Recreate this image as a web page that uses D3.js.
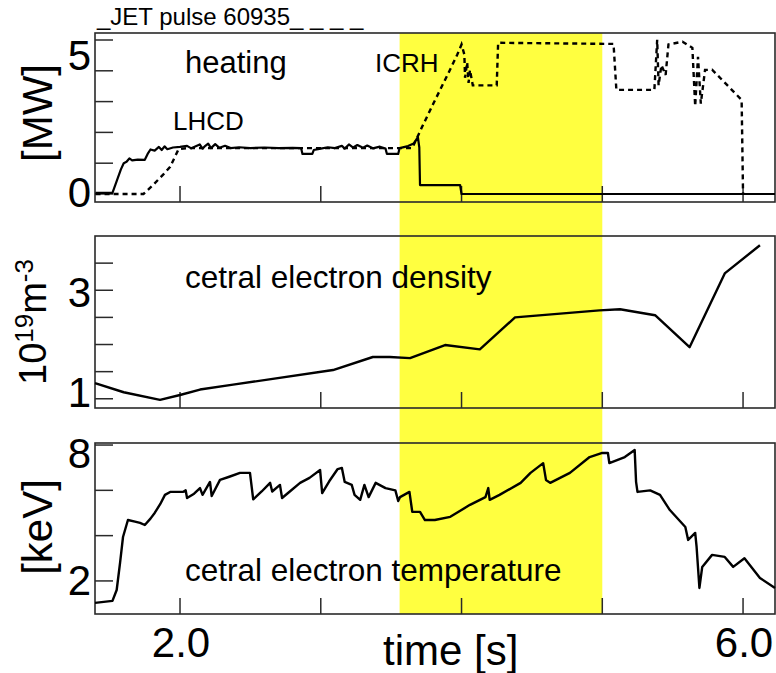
<!DOCTYPE html>
<html><head><meta charset="utf-8">
<script src="https://cdn.jsdelivr.net/npm/d3@7"></script>
<style>
body{margin:0;background:#fff}
svg{display:block}
text{font-family:"Liberation Sans",Arial,Helvetica,sans-serif;fill:#000}
</style>
</head><body>
<svg id="chart" width="776" height="673"></svg>
<script>
// ---------------- data ----------------
const timeTicks = [2, 3, 4, 5, 6];
const timeTickLabels = [[2, "2.0"], [6, "6.0"]];
const highlightWindow = [3.56, 5.0];

// heating power [MW] : [time s, value]
const lhcdPower = [[1.40,0.04],[1.52,0.04],[1.55,0.46],[1.58,0.88],[1.60,1.10],[1.62,1.15],[1.64,1.27],[1.66,1.20],[1.70,1.23],[1.75,1.22],[1.77,1.43],[1.79,1.59],[1.82,1.55],[1.85,1.68],[1.87,1.57],[1.89,1.70],[1.91,1.60],[1.95,1.66],[2.00,1.68],[2.05,1.72],[2.08,1.63],[2.10,1.68],[2.14,1.77],[2.16,1.62],[2.18,1.72],[2.20,1.80],[2.22,1.64],[2.25,1.78],[2.28,1.65],[2.32,1.72],[2.36,1.64],[2.42,1.67],[2.50,1.64],[2.60,1.66],[2.70,1.64],[2.80,1.65],[2.86,1.64],[2.87,1.43],[2.94,1.43],[2.95,1.57],[3.00,1.62],[3.05,1.67],[3.10,1.64],[3.15,1.72],[3.17,1.62],[3.20,1.77],[3.23,1.66],[3.26,1.75],[3.30,1.65],[3.33,1.73],[3.37,1.63],[3.42,1.69],[3.46,1.62],[3.47,1.43],[3.55,1.43],[3.56,1.64],[3.62,1.71],[3.66,1.80],[3.69,2.03],[3.70,1.66],[3.705,0.32],[3.99,0.32],[4.00,0.0],[6.227,0.0]];
const icrhPower = [[1.40,0],[1.74,0],[1.80,0.28],[1.88,0.69],[1.93,0.97],[1.99,1.60],[2.05,1.64],[2.50,1.64],[3.00,1.64],[3.50,1.64],[3.65,1.64],[3.72,2.40],[3.80,3.23],[3.90,4.25],[3.97,4.98],[4.00,5.34],[4.02,4.98],[4.025,4.15],[4.04,4.70],[4.05,3.97],[4.06,4.43],[4.08,3.88],[4.25,3.88],[4.26,5.40],[5.08,5.36],[5.10,3.72],[5.37,3.72],[5.39,5.51],[5.40,3.88],[5.42,4.60],[5.45,4.25],[5.47,5.34],[5.57,5.44],[5.64,5.22],[5.66,3.14],[5.68,4.90],[5.70,3.23],[5.73,4.43],[5.78,4.44],[5.99,3.36],[6.00,0]];
const heatTicks = [0, 1.1, 2.2, 3.3, 4.4, 5.5];
const heatTickLabels = [[0, "0"], [5, "5"]];

// central electron density [1e19 m^-3]
const density = [[1.396,1.29],[1.60,1.12],[1.858,0.98],[2.00,1.07],[2.142,1.17],[2.377,1.26],[3.087,1.53],[3.37,1.77],[3.49,1.77],[3.634,1.75],[3.883,1.99],[4.13,1.91],[4.38,2.50],[4.98,2.63],[5.126,2.65],[5.375,2.54],[5.62,1.95],[5.87,3.31],[6.12,3.83]];
const densTicks = [1, 1.5, 2, 2.5, 3, 3.5];
const densTickLabels = [[1, "1"], [3, "3"]];

// central electron temperature [keV]
const temperature = [[1.396,1.03],[1.52,1.12],[1.55,1.6],[1.574,2.8],[1.595,3.94],[1.63,4.69],[1.68,4.62],[1.716,4.56],[1.75,4.47],[1.79,4.75],[1.82,5.0],[1.86,5.4],[1.893,5.8],[1.93,5.93],[2.02,5.93],[2.04,6.0],[2.05,5.66],[2.1,5.85],[2.142,6.1],[2.16,5.8],[2.213,6.37],[2.225,5.75],[2.284,6.46],[2.35,6.6],[2.426,6.77],[2.497,6.77],[2.52,5.6],[2.58,5.95],[2.64,6.33],[2.655,5.95],[2.71,6.24],[2.725,5.66],[2.78,5.95],[2.853,6.33],[2.92,6.55],[2.995,6.9],[3.01,5.88],[3.06,6.4],[3.12,6.94],[3.15,6.99],[3.17,6.37],[3.22,6.24],[3.24,5.8],[3.28,5.58],[3.31,6.24],[3.34,5.7],[3.39,6.33],[3.46,6.1],[3.53,6.0],[3.55,5.53],[3.563,5.7],[3.63,5.93],[3.65,5.05],[3.705,5.05],[3.74,4.69],[3.81,4.69],[3.92,4.83],[4.06,5.36],[4.17,5.7],[4.19,6.1],[4.2,5.58],[4.27,5.8],[4.42,6.33],[4.49,6.77],[4.58,7.2],[4.6,6.46],[4.63,6.33],[4.77,6.77],[4.91,7.47],[5.0,7.65],[5.04,7.65],[5.05,7.2],[5.16,7.47],[5.21,7.69],[5.23,7.78],[5.24,6.37],[5.25,5.93],[5.34,6.0],[5.41,5.8],[5.48,5.13],[5.59,4.38],[5.61,3.81],[5.66,4.12],[5.67,3.5],[5.69,1.69],[5.71,2.62],[5.78,3.15],[5.87,3.06],[5.93,2.62],[6.01,3.0],[6.12,2.13],[6.227,1.69]];
const tempTicks = [2, 4, 6, 8];
const tempTickLabels = [[2, "2"], [8, "8"]];

// ---------------- layout ----------------
const svg = d3.select("#chart");
const L = 95, R = 775;
const x = d3.scaleLinear().domain([1.396, 6.227]).range([L, R]);

const panels = [
  {top: 33, bottom: 202, domain: [-0.286, 5.75], ticks: heatTicks, labels: heatTickLabels, labelDy: [13, 16]},
  {top: 236, bottom: 408, domain: [0.83, 4.0], ticks: densTicks, labels: densTickLabels, labelDy: [8, 17]},
  {top: 443, bottom: 614, domain: [0.54, 8.09], ticks: tempTicks, labels: tempTickLabels, labelDy: [14, 23]}
];
panels.forEach(p => p.y = d3.scaleLinear().domain(p.domain).range([p.bottom, p.top]));

// highlight band
svg.append("rect")
  .attr("x", x(highlightWindow[0])).attr("width", x(highlightWindow[1]) - x(highlightWindow[0]))
  .attr("y", panels[0].top).attr("height", panels[2].bottom - panels[0].top)
  .attr("fill", "#ffff40");

const frameColor = "#2a2a2a";
panels.forEach(p => {
  const g = svg.append("g");
  g.append("rect").attr("x", L).attr("y", p.top).attr("width", R - L).attr("height", p.bottom - p.top)
    .attr("fill", "none").attr("stroke", frameColor).attr("stroke-width", 1.6);
  g.selectAll(".xt").data(timeTicks).join("line")
    .attr("x1", d => x(d)).attr("x2", d => x(d))
    .attr("y1", p.bottom).attr("y2", p.bottom - 16)
    .attr("stroke", frameColor).attr("stroke-width", 1.5);
  g.selectAll(".yt").data(p.ticks).join("line")
    .attr("x1", L).attr("x2", L + 18)
    .attr("y1", d => p.y(d)).attr("y2", d => p.y(d))
    .attr("stroke", frameColor).attr("stroke-width", 1.5);
  g.selectAll(".yl").data(p.labels).join("text")
    .attr("x", 91).attr("y", (d, i) => p.y(d[0]) + p.labelDy[i])
    .attr("text-anchor", "end").attr("font-size", 42).text(d => d[1]);
});

// curves
const lineFor = p => d3.line().x(d => x(d[0])).y(d => p.y(d[1]));
svg.append("path").datum(icrhPower).attr("d", lineFor(panels[0]))
  .attr("fill", "none").attr("stroke", "#000").attr("stroke-width", 2.4).attr("stroke-dasharray", "5,4");
svg.append("path").datum(lhcdPower).attr("d", lineFor(panels[0]))
  .attr("fill", "none").attr("stroke", "#000").attr("stroke-width", 2.2).attr("stroke-linejoin", "round");
svg.append("path").datum(density).attr("d", lineFor(panels[1]))
  .attr("fill", "none").attr("stroke", "#000").attr("stroke-width", 2.4).attr("stroke-linejoin", "round");
svg.append("path").datum(temperature).attr("d", lineFor(panels[2]))
  .attr("fill", "none").attr("stroke", "#000").attr("stroke-width", 2.4).attr("stroke-linejoin", "round");

// x tick labels
svg.selectAll(".xl").data(timeTickLabels).join("text")
  .attr("x", d => x(d[0]) + 1).attr("y", 657).attr("text-anchor", "middle")
  .attr("font-size", 42).text(d => d[1]);
svg.append("text").attr("x", 383).attr("y", 665).attr("font-size", 42).text("time [s]");

// y axis titles
svg.append("text").attr("transform", "translate(52,113) rotate(-90)")
  .attr("text-anchor", "middle").attr("font-size", 42).text("[MW]");
svg.append("text").attr("transform", "translate(52,527) rotate(-90)")
  .attr("text-anchor", "middle").attr("font-size", 42).text("[keV]");
const dt = svg.append("text").attr("transform", "translate(46,322) rotate(-90)")
  .attr("text-anchor", "middle").attr("font-size", 38);
dt.append("tspan").text("10");
dt.append("tspan").attr("font-size", 26).attr("dy", -13).text("19");
dt.append("tspan").attr("dy", 13).text("m");
dt.append("tspan").attr("font-size", 26).attr("dy", -13).text("-3");

// annotations
svg.append("text").attr("x", 97).attr("y", 25).attr("font-size", 24).text("_JET pulse 60935_ _ _ _");
svg.append("text").attr("x", 185).attr("y", 73).attr("font-size", 31).text("heating");
svg.append("text").attr("x", 173).attr("y", 130).attr("font-size", 26).text("LHCD");
svg.append("text").attr("x", 375).attr("y", 72).attr("font-size", 26).text("ICRH");
svg.append("text").attr("x", 185).attr("y", 288).attr("font-size", 31.5).text("cetral electron density");
svg.append("text").attr("x", 185).attr("y", 581).attr("font-size", 31.5).text("cetral electron temperature");
</script>
</body></html>
